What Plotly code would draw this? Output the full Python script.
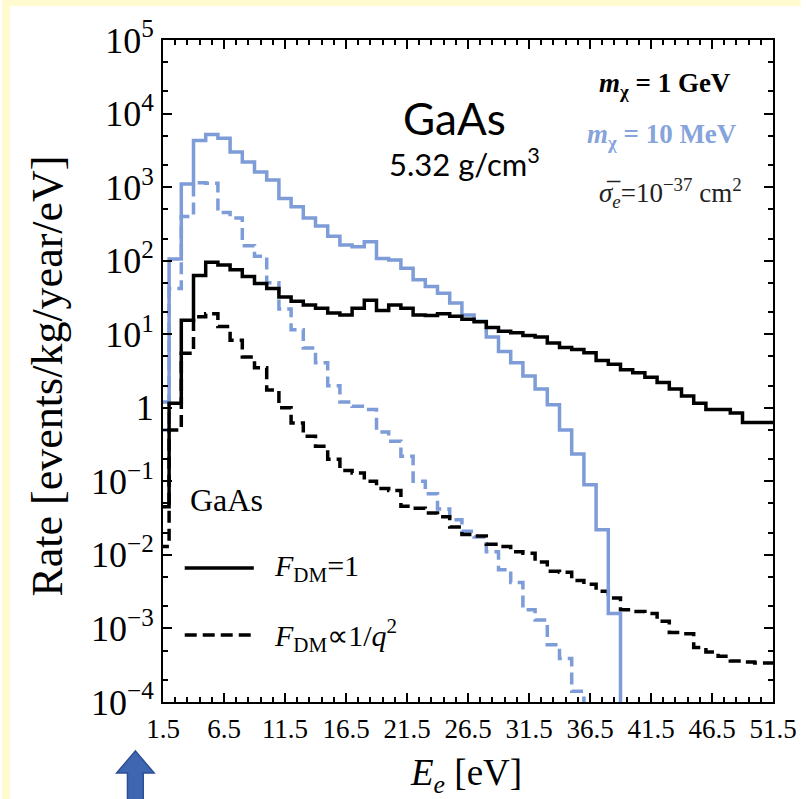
import numpy as np
import plotly.graph_objects as go

# Recoil-energy bins: left edges in eV (each bin is 1 eV wide)
bin_left = list(range(1, 52))

# m_chi = 1 GeV, F_DM = 1
rate_1gev_f1 = [0.045, 1.15, 15.5, 63, 95, 87, 75, 61, 49, 42, 32, 28, 25, 22.5, 19.5, 18.2,
                22.5, 29, 21, 25, 22.5, 18.2, 18, 19, 17.5, 16, 14.8, 12.3, 11, 10.5, 9.6,
                9.2, 7.6, 6.6, 6.2, 5.6, 4.4, 3.9, 3.3, 3.0, 2.6, 2.2, 1.8, 1.45, 1.15, 0.95,
                0.95, 0.85, 0.63, 0.63, 0.63]

# m_chi = 1 GeV, F_DM ~ 1/q^2
rate_1gev_fq2 = [0.013, 0.5, 5.5, 17.3, 19, 12.7, 8.3, 4.9, 3.5, 1.75, 1.0, 0.62, 0.41, 0.30,
                 0.20, 0.14, 0.13, 0.10, 0.08, 0.075, 0.046, 0.043, 0.037, 0.033, 0.024, 0.019,
                 0.018, 0.014, 0.013, 0.011, 0.0105, 0.008, 0.006, 0.0058, 0.0045, 0.0040,
                 0.0032, 0.0026, 0.0018, 0.0017, 0.0016, 0.00125, 0.00088, 0.00085, 0.00055,
                 0.00048, 0.00042, 0.00036, 0.00035, 0.00034, 0.00034]

# m_chi = 10 MeV, F_DM = 1
rate_10mev_f1 = [1.2, 105, 1100, 4300, 5200, 4600, 3000, 2200, 1600, 1250, 700, 540, 380, 295,
                 215, 163, 155, 181, 107, 102, 79, 55, 44.5, 36, 26.5, 18.3, 15, 9.2, 5.8, 4.1,
                 2.7, 1.8, 1.1, 0.5, 0.235, 0.09, 0.022, 0.0016, 0, 0, 0, 0, 0, 0, 0, 0, 0,
                 0, 0, 0, 0]

# m_chi = 10 MeV, F_DM ~ 1/q^2
rate_10mev_fq2 = [0.5, 42, 400, 1150, 1130, 450, 380, 160, 115, 50, 22, 11.5, 6.5, 4.1, 2.0,
                  1.2, 1.05, 0.95, 0.47, 0.35, 0.22, 0.10, 0.068, 0.042, 0.030, 0.021, 0.0175,
                  0.011, 0.0063, 0.0042, 0.0018, 0.0013, 0.0006, 0.00039, 0.00014, 0, 0, 0, 0,
                  0, 0, 0, 0, 0, 0, 0, 0, 0, 0, 0, 0]

x_ticks = [1.5, 6.5, 11.5, 16.5, 21.5, 26.5, 31.5, 36.5, 41.5, 46.5, 51.5]
y_exponents = [-4, -3, -2, -1, 0, 1, 2, 3, 4, 5]

BLACK = "#000000"
BLUE = "#7d9cd8"
BLUE_TEXT = "#86a3dc"
SERIF = "Liberation Serif"
SANS = "Lato"
ZERO_FLOOR = 1e-9  # zero rates sit far below the axis on the log scale


def step_xy(values):
    edges = np.array(bin_left + [bin_left[-1] + 1], dtype=float)
    v = np.array(values, dtype=float)
    v = np.where(v > 0, v, ZERO_FLOOR)
    return edges, np.append(v, v[-1])


fig = go.Figure()
for vals, color, dash in [
    (rate_10mev_fq2, BLUE, "12px,6px"),
    (rate_1gev_fq2, BLACK, "12px,6px"),
    (rate_10mev_f1, BLUE, "solid"),
    (rate_1gev_f1, BLACK, "solid"),
]:
    xs, ys = step_xy(vals)
    fig.add_trace(go.Scatter(x=xs, y=ys, mode="lines", line_shape="hv",
                             line=dict(color=color, width=3.5, dash=dash),
                             showlegend=False, hoverinfo="skip"))

# plot area in pixels
W, H = 809, 799
ML, MR, MT, MB = 163, 28, 40, 97
PW, PH = W - ML - MR, H - MT - MB


def px(x):
    return (x - ML) / PW


def py(y):
    return (H - MB - y) / PH


def ytick_text(e):
    return "1" if e == 0 else "10<sup>%d</sup>" % e if e > 0 else "10<sup>\u2212%d</sup>" % -e


fig.update_xaxes(range=[1.5, 51.5], tickvals=x_ticks, ticktext=[("%g" % t) for t in x_ticks],
                 ticks="inside", ticklen=9, tickwidth=1.5, tickcolor="black",
                 minor=dict(dtick=1, tick0=1.5, ticks="inside", ticklen=5, tickcolor="black"),
                 showline=True, linewidth=2, linecolor="black", mirror="allticks",
                 showgrid=False, zeroline=False, ticklabelstandoff=2,
                 tickfont=dict(family=SERIF, size=27, color="black"))
fig.update_yaxes(type="log", range=[-4, 5], tickvals=[10.0 ** e for e in y_exponents],
                 ticktext=[ytick_text(e) for e in y_exponents],
                 ticks="inside", ticklen=9, tickwidth=1.5, tickcolor="black",
                 minor=dict(ticks="inside", ticklen=5, tickcolor="black"),
                 showline=True, linewidth=2, linecolor="black", mirror="allticks",
                 showgrid=False, zeroline=False,
                 tickfont=dict(family=SERIF, size=36, color="black"))


def path(points):
    return "M " + " L ".join("%.5f,%.5f" % (px(a), py(b)) for a, b in points) + " Z"


arrow_pts = [(135, 751), (116, 773), (127, 773), (127, 800), (143, 800), (143, 773), (154, 773)]

shapes = [
    # slide frame strips
    dict(type="rect", xref="paper", yref="paper", x0=px(0), x1=px(8), y0=py(H), y1=py(0),
         fillcolor="#fffbcf", line_width=0, layer="below"),
    dict(type="rect", xref="paper", yref="paper", x0=px(0), x1=px(W), y0=py(6), y1=py(0),
         fillcolor="#fffbcf", line_width=0, layer="below"),
    # pointer arrow under the axis
    dict(type="path", xref="paper", yref="paper", path=path(arrow_pts),
         fillcolor="#3f66b0", line=dict(color="#2c4f94", width=1.5)),
    # legend samples
    dict(type="line", xref="paper", yref="paper", x0=px(185), x1=px(255), y0=py(568), y1=py(568),
         line=dict(color="black", width=3.5)),
    dict(type="line", xref="paper", yref="paper", x0=px(185), x1=px(252), y0=py(635), y1=py(635),
         line=dict(color="black", width=3.5, dash="12px,6px")),
]


def ann(text, x, y, size, family, color="black", xanchor="left", yanchor="middle", angle=0):
    return dict(text=text, x=px(x), y=py(y), xref="paper", yref="paper", showarrow=False,
                xanchor=xanchor, yanchor=yanchor, textangle=angle,
                font=dict(family=family, size=size, color=color))


annotations = [
    ann("GaAs", 458, 118, 44, SANS, xanchor="center"),
    ann("5.32 g/cm<sup>3</sup>", 468, 162, 31, SANS, xanchor="center"),
    ann("<b><i>m</i><sub>\u03c7</sub> = 1 GeV</b>", 740, 85, 27, SERIF, xanchor="right"),
    ann("<b><i>m</i><sub>\u03c7</sub> = 10 MeV</b>", 747, 136, 27, SERIF, color=BLUE_TEXT,
        xanchor="right"),
    ann("<i>\u03c3\u0305</i><sub><i>e</i></sub>=10<sup>\u221237</sup> cm<sup>2</sup>", 752, 193, 27,
        SERIF, color="#222222", xanchor="right"),
    ann("GaAs", 188, 500, 32, SERIF),
    ann("<i>F</i><sub>DM</sub>=1", 273, 568, 30, SERIF),
    ann("<i>F</i><sub>DM</sub>\u221d1/<i>q</i><sup>2</sup>", 273, 635, 30, SERIF),
    ann("Rate [events/kg/year/eV]", 45, 376, 44, SERIF, xanchor="center", angle=-90),
    ann("<i>E</i><sub><i>e</i></sub> [eV]", 470, 775, 37, SERIF, xanchor="center"),
]

fig.update_layout(width=W, height=H, margin=dict(l=ML, r=MR, t=MT, b=MB),
                  paper_bgcolor="white", plot_bgcolor="white",
                  shapes=shapes, annotations=annotations, showlegend=False)

fig.write_html("out.html")
